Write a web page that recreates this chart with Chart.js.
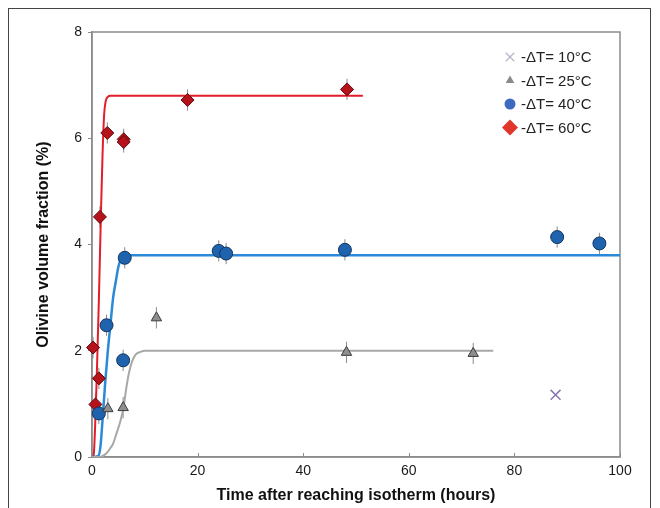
<!DOCTYPE html>
<html>
<head>
<meta charset="utf-8">
<script src="https://cdn.jsdelivr.net/npm/chart.js@4.4.1/dist/chart.umd.min.js"></script>
<style>
html, body { margin:0; padding:0; background:#fff; }
#wrap { position:relative; width:660px; height:508px; overflow:hidden; }
#frame { position:absolute; left:8px; top:8px; width:643px; height:530px; border:1.5px solid #444; box-sizing:border-box; pointer-events:none; }
</style>
</head>
<body>
<div id="wrap">
  <canvas id="chart" width="660" height="508"></canvas>
  <div id="frame"></div>
</div>
<script>
// ---- Datos
const labels = ['-ΔT= 10°C', '-ΔT= 25°C', '-ΔT= 40°C', '-ΔT= 60°C'];

const t10 = [87.8];
const v10 = [1.17];

const t25 = [3.0, 5.9, 12.2, 48.2, 72.2];
const v25 = [0.91, 0.93, 2.62, 1.97, 1.95];

const t40 = [1.3, 2.75, 5.9, 6.2, 24.0, 25.4, 47.9, 88.1, 96.1];
const v40 = [0.82, 2.48, 1.82, 3.75, 3.88, 3.83, 3.90, 4.14, 4.02];

const t60 = [0.2, 0.65, 1.3, 1.5, 2.9, 6.0, 6.0, 18.1, 48.3];
const v60 = [2.06, 0.99, 1.48, 4.52, 6.10, 5.98, 5.93, 6.72, 6.92];

const errBar = 0.2; // barra de error aprox. (±)

// curvas de ajuste
const tFit25 = [0, 1.5, 2.5, 3.0, 3.5, 4.0, 4.5, 5.0, 5.5, 6.0, 6.5, 7.0, 7.6, 8.3, 9.2, 10, 76];
const vFit25 = [0, 0, 0.05, 0.1, 0.17, 0.25, 0.4, 0.55, 0.72, 0.95, 1.3, 1.58, 1.8, 1.93, 1.98, 2.0, 2.0];

const tFit40 = [0, 1.2, 1.6, 2.0, 2.5, 3.0, 3.5, 4.0, 4.5, 5.0, 5.5, 6.0, 7.0, 100];
const vFit40 = [0, 0.02, 0.2, 0.7, 1.4, 2.0, 2.5, 3.0, 3.3, 3.58, 3.74, 3.78, 3.8, 3.8];

const tFit60 = [0, 0.3, 0.6, 0.9, 1.3, 1.7, 2.0, 2.3, 2.6, 3.0, 3.5, 51.3];
const vFit60 = [0, 0.02, 0.6, 1.5, 2.95, 4.6, 5.7, 6.45, 6.7, 6.78, 6.8, 6.8];

const xTicks = [0, 20, 40, 60, 80, 100];
const yTicks = [0, 2, 4, 6, 8];

// ---- Utilidades
const pts = (xs, ys) => xs.map((x, i) => ({ x, y: ys[i] }));
const FONT = '"Liberation Sans", Arial, sans-serif';

// ---- Datasets (los primeros se dibujan encima)
const markerSets = [
  { label: labels[0], data: pts(t10, v10), pointStyle: 'crossRot', pointRadius: 7,
    borderColor: '#8a78b4', backgroundColor: '#8a78b4', pointBorderWidth: 1.5, err: false },
  { label: labels[1], data: pts(t25, v25), pointStyle: 'triangle', pointRadius: 6,
    borderColor: '#3c3c3c', backgroundColor: '#8e8e8e', pointBorderWidth: 1, err: true },
  { label: labels[2], data: pts(t40, v40), pointStyle: 'circle', pointRadius: 6.5,
    borderColor: '#12345e', backgroundColor: '#1f63ae', pointBorderWidth: 1, err: true },
  { label: labels[3], data: pts(t60, v60), pointStyle: 'rectRot', pointRadius: 6.5,
    borderColor: '#5c0a0a', backgroundColor: '#b5121b', pointBorderWidth: 1, err: true }
];
markerSets.forEach(d => { d.showLine = false; d.pointHoverRadius = d.pointRadius; d.clip = false; });

const fitSets = [
  { data: pts(tFit25, vFit25), borderColor: '#a8a8a8', borderWidth: 2 },
  { data: pts(tFit40, vFit40), borderColor: '#2a8ad8', borderWidth: 2.5 },
  { data: pts(tFit60, vFit60), borderColor: '#e21e2a', borderWidth: 2 }
];
fitSets.forEach(d => {
  d.showLine = true; d.pointRadius = 0; d.fit = true;
  d.cubicInterpolationMode = 'monotone'; d.fill = false;
});

// ---- Plugins
const errorBars = {
  id: 'errorBars',
  beforeDatasetsDraw(chart) {
    const { ctx, scales: { x, y } } = chart;
    ctx.save();
    ctx.strokeStyle = 'rgba(90,90,90,0.7)';
    ctx.lineWidth = 1;
    chart.data.datasets.forEach(ds => {
      if (!ds.err) return;
      ds.data.forEach(p => {
        const px = x.getPixelForValue(p.x);
        ctx.beginPath();
        ctx.moveTo(px, y.getPixelForValue(p.y - errBar));
        ctx.lineTo(px, y.getPixelForValue(p.y + errBar));
        ctx.stroke();
      });
    });
    ctx.restore();
  }
};

const frameAndTicks = {
  id: 'frameAndTicks',
  beforeDatasetsDraw(chart) {
    const { ctx, chartArea: a, scales: { x } } = chart;
    ctx.save();
    ctx.strokeStyle = '#8c8c8c';
    ctx.lineWidth = 1.5;
    ctx.strokeRect(a.left, a.top, a.right - a.left, a.bottom - a.top);
    ctx.lineWidth = 1;
    xTicks.forEach(v => {
      const px = Math.round(x.getPixelForValue(v)) + 0.5;
      ctx.beginPath();
      ctx.moveTo(px, a.bottom);
      ctx.lineTo(px, a.bottom - 4);
      ctx.stroke();
    });
    ctx.restore();
  }
};

const innerLegend = {
  id: 'innerLegend',
  afterDraw(chart) {
    const { ctx, chartArea: a } = chart;
    const styles = [
      { pointStyle: 'crossRot', radius: 6, borderWidth: 1.2, stroke: '#b4b4c8', fill: '#b4b4c8' },
      { pointStyle: 'triangle', radius: 5, borderWidth: 0, stroke: '#8a8a8a', fill: '#8a8a8a' },
      { pointStyle: 'circle', radius: 5.5, borderWidth: 0, stroke: '#3d6bbf', fill: '#3d6bbf' },
      { pointStyle: 'rectRot', radius: 8, borderWidth: 0, stroke: '#e0362c', fill: '#e0362c' }
    ];
    ctx.save();
    ctx.font = '15px ' + FONT;
    ctx.textBaseline = 'middle';
    labels.forEach((lab, i) => {
      const cy = a.top + 25 + i * 23.5;
      const cx = a.right - 110;
      const s = styles[i];
      ctx.strokeStyle = s.stroke;
      ctx.fillStyle = s.fill;
      ctx.lineWidth = s.borderWidth;
      Chart.helpers.drawPoint(ctx, { pointStyle: s.pointStyle, radius: s.radius, rotation: 0, borderWidth: s.borderWidth }, cx, cy);
      ctx.fillStyle = '#222';
      ctx.fillText(lab, cx + 11, cy + 1);
    });
    ctx.restore();
  }
};

// ---- Chart
new Chart(document.getElementById('chart'), {
  type: 'scatter',
  data: { datasets: [...markerSets, ...fitSets] },
  options: {
    responsive: false,
    animation: false,
    events: [],
    layout: { padding: { left: 0, top: 32, right: 40, bottom: 0 } },
    plugins: { legend: { display: false }, tooltip: { enabled: false } },
    scales: {
      x: {
        type: 'linear', min: 0, max: 100,
        afterBuildTicks: s => { s.ticks = xTicks.map(v => ({ value: v })); },
        afterFit: s => { s.height = 51; },
        grid: { drawOnChartArea: false, drawTicks: false },
        border: { color: '#8c8c8c', width: 1.5 },
        ticks: { padding: 6, color: '#1a1a1a', font: { family: FONT, size: 14 } },
        title: { display: true, text: 'Time after reaching isotherm (hours)', color: '#111',
                 font: { family: FONT, size: 16, weight: 'bold' }, padding: { top: 0, bottom: 3 } }
      },
      y: {
        type: 'linear', min: 0, max: 8,
        afterBuildTicks: s => { s.ticks = yTicks.map(v => ({ value: v })); },
        afterFit: s => { s.width = 92; },
        grid: { drawOnChartArea: false, drawTicks: true, tickLength: 4, color: '#8c8c8c' },
        border: { color: '#8c8c8c', width: 1.5 },
        ticks: { padding: 6, color: '#1a1a1a', font: { family: FONT, size: 14 } },
        title: { display: true, text: 'Olivine volume fraction (%)', color: '#111',
                 font: { family: FONT, size: 16, weight: 'bold' }, padding: { top: 34, bottom: 0 } }
      }
    }
  },
  plugins: [errorBars, frameAndTicks, innerLegend]
});
</script>
</body>
</html>
